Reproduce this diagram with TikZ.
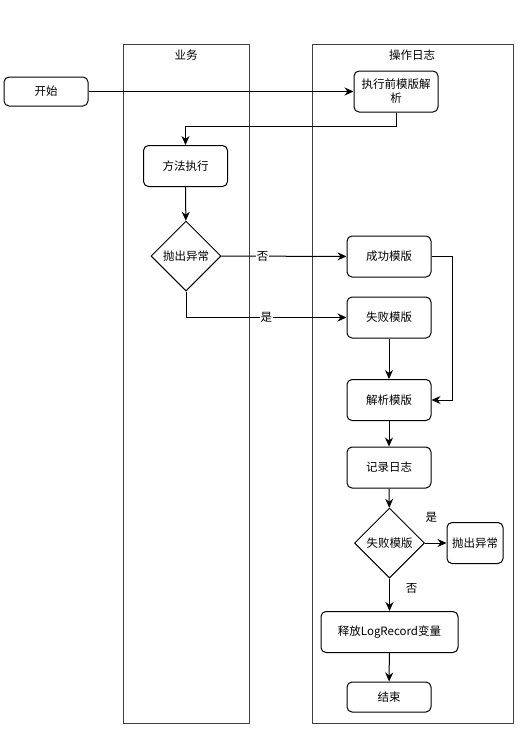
\documentclass[tikz,border=0pt]{standalone}
\usepackage{fontspec}
\setmainfont{Noto Sans CJK SC}
\usetikzlibrary{arrows.meta,shapes.geometric}
\tikzset{
    box/.style={draw, rounded corners=5pt, minimum width=84pt, minimum height=41pt,
            align=center, font=\fontsize{11.5}{14}\selectfont},
    choice/.style={draw, diamond, minimum size=70pt, inner sep=0pt,
            font=\fontsize{11.5}{14}\selectfont},
    lane/.style={draw=black!75},
    flow/.style={-{Stealth[length=9pt,width=8pt]}},
    tag/.style={fill=white, inner sep=1pt, font=\fontsize{11.5}{14}\selectfont},
}

\begin{document}
\begin{tikzpicture}[x=1pt, y=-1pt, line width=1pt]
        \useasboundingbox (0,0) rectangle (521,731);
        %swimlanes
        \draw[lane] (123,44) rectangle (249,723);
        \draw[lane] (312,44) rectangle (513,723);
        \node[tag] (lanea) at (186,55) {业务};
        \node[tag] (laneb) at (412,55) {操作日志};
        %steps
        \node[box, minimum height=29pt] (start) at (46,91.5) {开始};
        \node[box] (pre) at (396,91.5) {执行前模版解\\析};
        \node[box] (exec) at (185.5,166) {方法执行};
        \node[choice] (throw) at (186,256) {抛出异常};
        \node[box] (ok) at (389,256.5) {成功模版};
        \node[box] (fail) at (389,317.5) {失败模版};
        \node[box] (parse) at (389,400) {解析模版};
        \node[box] (log) at (389,467.5) {记录日志};
        \node[choice] (isfail) at (389.5,543) {失败模版};
        \node[box, minimum width=56pt, inner sep=2pt] (raise) at (475,543) {抛出异常};
        \node[box, minimum width=137pt] (free) at (389.5,632) {释放LogRecord变量};
        \node[box, minimum height=30pt] (end) at (389,697) {结束};
        %arrows
        \draw[flow] (start) -- (pre);
        \draw[flow] (pre.south) -- ++(0,14) -| (exec.north);
        \draw[flow] (exec) -- (throw);
        \draw[flow] (throw) -- node[tag, pos=0.33] {否} (ok);
        \draw[flow] (throw.south) |- node[tag, pos=0.75] {是} (fail.west);
        \draw[flow] (fail) -- (parse);
        \draw[flow] (ok.east) -- ++(21,0) |- (parse.east);
        \draw[flow] (parse) -- (log);
        \draw[flow] (log) -- (isfail);
        \draw[flow] (isfail) -- node[tag, pos=0.3, yshift=26pt] {是} (raise);
        \draw[flow] (isfail) -- node[tag, pos=0.32, xshift=22pt] {否} (free);
        \draw[flow] (free) -- (end);
    \end{tikzpicture}
\end{document}
